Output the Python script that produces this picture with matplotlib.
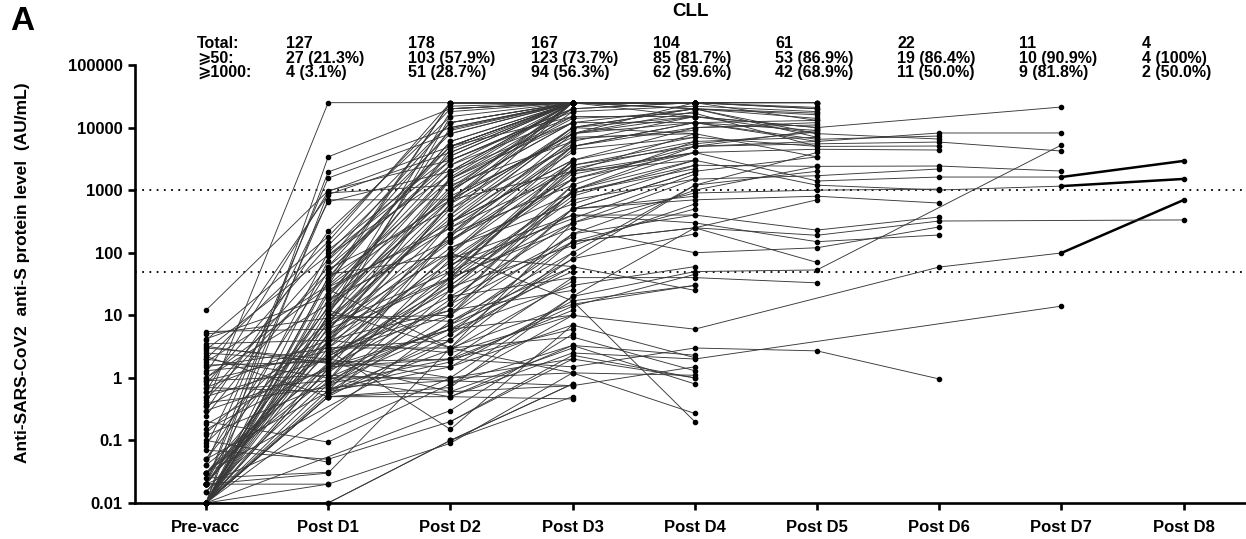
# CLL anti-S antibody levels per subject across vaccine doses

import numpy as np
import matplotlib
matplotlib.use('Agg')
import matplotlib.pyplot as plt
import matplotlib.transforms as mtransforms

nan = np.nan
NA = [nan] * 10

timepoints = ['Pre-vacc', 'Post D1', 'Post D2', 'Post D3', 'Post D4',
              'Post D5', 'Post D6', 'Post D7', 'Post D8']
header_rows = ['Total:', '\u2a7e50:', '\u2a7e1000:']
total_n = ['127', '178', '167', '104', '61', '22', '11', '4']
over_50 = ['27 (21.3%)', '103 (57.9%)', '123 (73.7%)', '85 (81.7%)',
           '53 (86.9%)', '19 (86.4%)', '10 (90.9%)', '4 (100%)']
over_1000 = ['4 (3.1%)', '51 (28.7%)', '94 (56.3%)', '62 (59.6%)',
             '42 (68.9%)', '11 (50.0%)', '9 (81.8%)', '2 (50.0%)']
thresholds = [50, 1000]

# AU/mL per subject, one list per time point (blocks of 10 subjects)
pre_vacc = (
    [0.01, 0.02, 0.07, 0.01, 0.05, 0.02, 0.01, 0.04, 0.2, 0.03]
    + [0.01, 0.02, 0.03, 0.13, 0.01, 0.5, 4.2, 0.015, 1.0, 0.02]
    + [0.02, 0.3, 0.05, 2.0, 0.01, 1.8, 0.8, 0.25, 0.01, 4.0]
    + [3.0, 2.2, 1.5, 5.5, 0.01, 0.4, 2.5, 0.01, 0.7, 0.09]
    + [12, 0.36, 0.01, 0.02, 0.04, 0.6, 0.01, 1.2, 0.02, 0.08]
    + [0.01, 0.02, 0.03, 0.01, 0.15, 2.0, 0.01, 1.6, 0.01, 0.3]
    + [0.01, 0.02, 0.01, 0.45, 0.5, 0.01, 2.8, 1.0, 0.01, 0.03]
    + [0.01, 0.01, 0.03, 1.3, 0.6, 0.01, 0.1, 3.5, 0.025, 0.01]
    + NA * 7
    + [0.9, 0.01, 0.02, 0.7, 0.01, 0.18, 0.01, 0.015, 5.0, 3.2]
    + [0.01, 0.03, 0.12, 0.01, 0.35, 0.02, 0.01, 0.9, 0.05, 0.01]
    + NA + NA
)
post_d1 = (
    [0.01, 0.02, 0.05, 0.5, 0.6, 0.03, 0.8, 1.5, 0.094, 2.5]
    + [3, 5, 1.2, 8, 12, 2, 20, 0.9, 15, 4]
    + [100, 220, 50, 150, 75, 30, 130, 60, 40, 180]
    + [2.0, 0.5, 3, 6, 10, 0.7, 1.8, 25, 4, 7]
    + [980, 25000, 3400, 1950, 1560, 950, 900, 850, 700, 650]
    + NA + NA
    + [0.02, 0.5, 1.0, 2.0, 0.9, 5, 0.045, 4, 0.031, 18]
    + [0.6, 1.3, 3, 9, 0.8, 20, 2.2, 35, 0.5, 6]
    + [1.0, 12, 45, 7, 0.7, 28, 3, 55, 90, 110]
    + NA * 4
    + [0.5, 1.5, 4, 0.9, 11, 2.8, 16, 60, 0.01, 26]
    + [1.1, 8, 14, 0.6, 35, 2.2, 6.5, 3.8, 9, 1.7]
    + [1.4, 6, 0.8, 22, 3.5, 9, 40, 2.7, 13, 0.55]
    + NA
    + [0.9, 2.4, 5.5, 16, 0.65, 7.5, 30, 1.9, 4.5, 11]
)
post_d2 = (
    [0.1, 0.09, 0.2, 0.5, 1.5, 3, 2, 6, 0.8, 10]
    + [60, 150, 30, 400, 900, 20, 2000, 80, 250, 120]
    + [8000, 15000, 3000, 25000, 5000, 1500, 12000, 2500, 700, 20000]
    + [1.0, 5, 3, 40, 8, 15, 0.6, 300, 2.5, 50]
    + [3000, 25000, 20000, 10000, 8000, 5000, 1200, 4000, 700, 2000]
    + [0.3, 1, 4, 8, 15, 0.5, 25, 2, 40, 6]
    + [200, 600, 1500, 5000, 12000, 300, 3000, 800, 10000, 100]
    + NA
    + [10, 50, 200, 1000, 6, 4000, 25, 6000, 0.7, 500]
    + [1.0, 3, 90, 100, 0.9, 250, 4, 500, 1800, 3500]
    + [100, 400, 2000, 8000, 25000, 1000, 300, 5000, 20000, 700]
    + [0.1, 0.2, 0.5, 1.5, 3, 10, 20, 0.8, 5, 2]
    + [60, 150, 30, 80, 300, 1000, 40, 5000, 120, 15]
    + NA
    + [0.6, 2, 12, 200, 1500, 0.15, 700, 9000, 0.1, 3]
    + [0.9, 700, 2000, 4, 25000, 30, 15000, 600, 10, 1.5]
    + [35, 600, 18, 2500, 70, 350, 6000, 12, 1100, 2.8]
    + [45, 180, 700, 3500, 12000, 22000, 65, 28, 1300, 9500]
    + [7, 90, 1600, 4500, 1.8, 160, 25000, 40, 300, 18000]
)
post_d3 = (
    [0.8, 1.2, 2.3, 0.46, 7, 4.5, 12, 30, 3.3, 200]
    + [2000, 5000, 800, 10000, 25000, 300, 25000, 1500, 4000, 600]
    + [25000, 25000, 20000, 25000, 25000, 12000, 25000, 15000, 8000, 25000]
    + [2.0, 60, 15, 2500, 100, 1000, 0.75, 3000, 10, 400]
    + [20000, 25000, 25000, 25000, nan, 25000, 6000, 25000, 2000, 12000]
    + [5, 20, 150, 60, 1200, 2.5, 500, 40, 3000, 10]
    + [5000, 25000, 15000, 25000, 25000, 10000, 18000, 7000, 25000, 2500]
    + [nan, nan, 50, nan, nan, 300, nan, nan, nan, 1500]
    + [1000, 3000, 8000, 25000, 80, 25000, 1200, 25000, 20, 10000]
    + [1.2, 300, 60, 17, 0.75, 2000, 80, 5000, 25000, 25000]
    + [5000, 25000, 25000, 25000, 25000, 12000, 3000, 25000, 25000, 8000]
    + [0.5, 2, 3.3, 17, 100, 500, 40, 10, 200, 1.5]
    + [1500, 2500, 700, 400, 6000, 12000, 250, 15000, 900, 150]
    + [1000, 2000, 25000, 7000, 300, 20, 5000, 500, 10000, 150]
    + [3, 6, 500, 1200, 20000, 7, 25000, 25000, 0.8, 1.2]
    + NA
    + [900, 8000, 180, 25000, 1800, 9000, 25000, 25, 20000, 35]
    + [2200, 6500, 18000, 25000, 25000, 25000, 350, 130, 14000, 25000]
    + [150, 4500, 25000, 25000, 14, 2800, 25000, 900, 5500, 25000]
)
post_d4 = (
    [nan, 0.27, 1.0, nan, 2.1, 1.3, nan, 60, 0.8, 1000]
    + [8000, 12000, 3000, 20000, 25000, 1500, 15000, 5000, nan, 2500]
    + [25000, nan, 25000, nan, 20000, nan, 25000, nan, 18000, nan]
    + [nan, nan, 30, nan, nan, 4000, nan, nan, nan, 400]
    + [nan, nan, 25000, nan, nan, nan, nan, 25000, nan, nan]
    + [nan, nan, 500, nan, nan, 2.0, 2000, nan, nan, nan]
    + [nan, 25000, nan, nan, 25000, 8000, nan, nan, nan, 6000]
    + NA
    + [5000, 10000, 25000, 25000, 1200, 20000, 6000, 25000, 250, 15000]
    + [1.1, nan, 25, 0.2, 1.5, 3000, 200, nan, 25000, nan]
    + [10000, 25000, 25000, 25000, 25000, 20000, 7000, 20000, nan, 12000]
    + [nan, 1.0, 2.3, 30, 1200, 2000, 40, 6, 400, 3]
    + [4000, 5000, 1500, 300, 15000, 12000, 100, 15000, 2500, 250]
    + [3000, 4000, 25000, 8000, 900, 50, 12000, 700, 20000, 250]
    + [nan, nan, 800, nan, nan, nan, 25000, nan, nan, nan]
    + NA
    + [nan, 15000, nan, nan, 4000, nan, nan, nan, 25000, nan]
    + [5500, 9000, 22000, 25000, nan, 25000, 1800, 600, 17000, 25000]
    + [nan, 7000, nan, nan, 45, nan, nan, 2200, nan, nan]
)
post_d5 = (
    [nan, nan, nan, nan, nan, nan, nan, nan, nan, 2400]
    + [nan, 13000, nan, nan, 25000, nan, nan, 6000, nan, nan]
    + [nan, nan, nan, nan, 17000, nan, nan, nan, nan, nan]
    + NA
    + [nan, nan, 25000, nan, nan, nan, nan, nan, nan, nan]
    + NA
    + [nan, nan, nan, nan, 20000, nan, nan, nan, nan, nan]
    + NA
    + [9000, 11000, 25000, nan, 4000, 16000, 7000, nan, 700, 10000]
    + NA
    + [12000, 25000, 20000, nan, nan, 8000, 5000, 14000, nan, 6500]
    + [nan, nan, nan, nan, 2000, 3400, 33, nan, 230, 2.7]
    + [4500, 5500, 1700, 150, 10000, 6000, 120, 8000, 2400, 190]
    + [1200, 1400, 13000, 3400, 1000, 53, 9000, 800, 7000, 70]
    + NA + NA + NA
    + [8500, nan, 18000, 21000, nan, nan, nan, nan, 5000, nan]
    + NA
)
post_d6 = (
    NA * 10
    + [nan, nan, nan, nan, nan, nan, 5070, nan, nan, 7330]
    + [nan, nan, nan, nan, nan, nan, nan, 59, 372, 0.96]
    + [4380, 5870, 2180, 192, nan, 8190, 258, 6560, 2430, 321]
    + [1005, 1620, nan, nan, 1040, nan, nan, 622, nan, nan]
    + NA * 5
)
post_d7 = (
    NA * 5
    + [nan, nan, nan, nan, nan, 14, nan, nan, nan, nan]
    + NA * 5
    + [nan, nan, nan, nan, nan, nan, nan, 99, nan, nan]
    + [nan, 4220, nan, nan, 21300, 8200, nan, nan, 2020, nan]
    + [1160, 1620, nan, nan, nan, 5260, nan, nan, nan, nan]
    + NA * 5
)
post_d8 = (
    NA * 11
    + [nan, nan, nan, nan, nan, nan, nan, 695, nan, nan]
    + [nan, nan, nan, nan, nan, nan, nan, nan, nan, 334]
    + [1510, 2930, nan, nan, nan, nan, nan, nan, nan, nan]
    + NA * 5
)

levels = np.array([pre_vacc, post_d1, post_d2, post_d3, post_d4,
                   post_d5, post_d6, post_d7, post_d8], dtype=float)
xpos = np.arange(len(timepoints))

plt.rcParams['font.family'] = ['Liberation Sans', 'DejaVu Sans']
plt.rcParams['font.weight'] = 'bold'

fig = plt.figure(figsize=(12.46, 5.39), dpi=100)
ax = fig.add_axes([0.1083, 0.0668, 0.8917, 0.8126])

for s in range(levels.shape[1]):
    y = levels[:, s]
    ok = ~np.isnan(y)
    ax.plot(xpos[ok], y[ok], color='0.22', lw=0.65, zorder=2)
    if ok[7] and ok[8]:
        ax.plot(xpos[7:9], y[7:9], color='k', lw=1.8, zorder=2)
    ax.plot(xpos[ok], y[ok], 'o', ms=3.0, color='k', mec='k',
            zorder=3, clip_on=False)

for t in thresholds:
    ax.axhline(t, color='k', lw=1.3, ls=(0, (1, 3)), zorder=1)

ax.set_yscale('log')
ax.set_ylim(0.01, 100000)
ax.set_xlim(-0.581, 8.511)
ax.set_yticks([0.01, 0.1, 1, 10, 100, 1000, 10000, 100000])
ax.set_yticklabels(['0.01', '0.1', '1', '10', '100', '1000', '10000', '100000'])
ax.yaxis.set_minor_locator(matplotlib.ticker.NullLocator())
ax.set_xticks(xpos)
ax.set_xticklabels(timepoints)
for side in ['top', 'right']:
    ax.spines[side].set_visible(False)
for side in ['left', 'bottom']:
    ax.spines[side].set_linewidth(1.9)
ax.tick_params(width=1.9, length=5, labelsize=12, pad=4)
ax.tick_params(axis='x', pad=7)

fig.text(0.018, 0.495, 'Anti-SARS-CoV2  anti-S protein level  (AU/mL)',
         rotation=90, ha='center', va='center', fontsize=12.5, fontweight='bold')

# header table above the plot
trans = mtransforms.blended_transform_factory(ax.transData, fig.transFigure)
row_y = [1 - 44 / 539, 1 - 58 / 539, 1 - 72 / 539]
for label, yy in zip(header_rows, row_y):
    ax.text(-0.074, yy, label, transform=trans, ha='left', va='center',
            fontsize=11.5, fontweight='bold', clip_on=False)
for i in range(len(total_n)):
    for vals, yy in zip([total_n, over_50, over_1000], row_y):
        ax.text(i + 1 - 0.344, yy, vals[i], transform=trans, ha='left',
                va='center', fontsize=11.5, fontweight='bold', clip_on=False)

fig.text(0.554, 1 - 12 / 539, 'CLL', ha='center', va='center',
         fontsize=13.5, fontweight='bold')
fig.text(0.008, 1 - 21 / 539, 'A', ha='left', va='center',
         fontsize=24, fontweight='bold')

fig.savefig('out.png', dpi=100)
